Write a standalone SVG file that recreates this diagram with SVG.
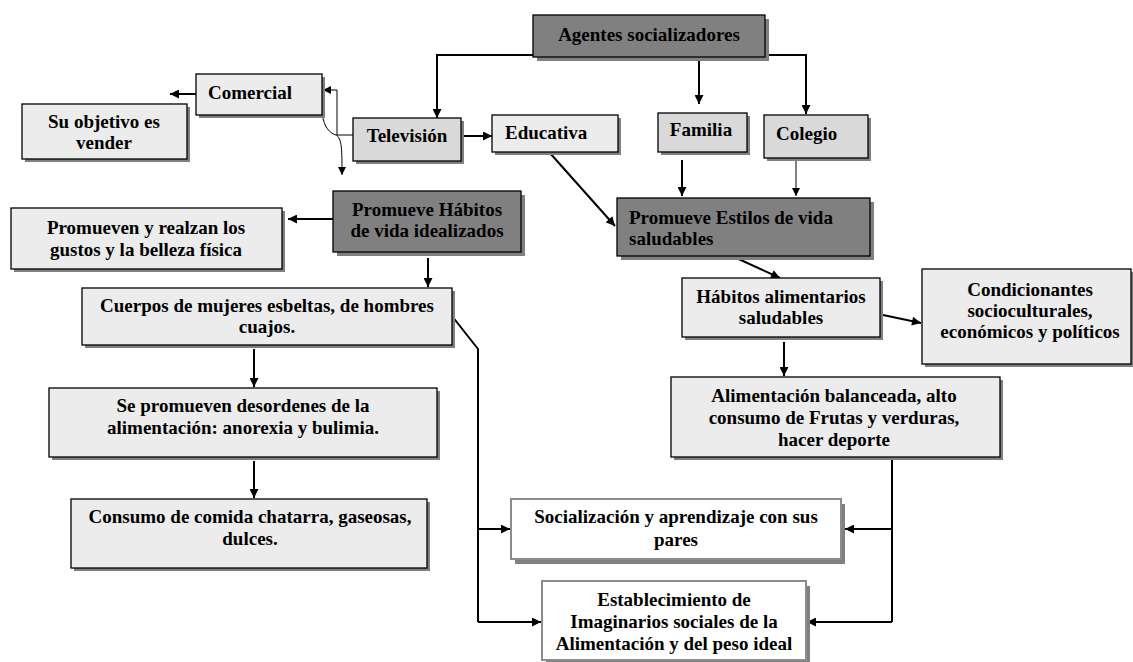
<svg xmlns="http://www.w3.org/2000/svg" width="1133" height="662" viewBox="0 0 1133 662">
<defs>
<style>
.t{font-family:"Liberation Serif","Times New Roman",serif;font-weight:bold;font-size:19px;fill:#000}
.c{text-anchor:middle}
.sh{fill:#808080}
.dk{fill:#808080;stroke:#000;stroke-width:1.3}
.md{fill:#d9d9d9;stroke:#000;stroke-width:1.3}
.lt{fill:#ececec;stroke:#000;stroke-width:1.3}
.wh{fill:#fff;stroke:#8c8c8c;stroke-width:2}
.k{fill:none;stroke:#000;stroke-width:2}
.n{fill:none;stroke:#000;stroke-width:1}
</style>
<marker id="a" viewBox="0 0 10 10" refX="10" refY="5" markerWidth="10" markerHeight="9" markerUnits="userSpaceOnUse" orient="auto"><path d="M0,0 L10,5 L0,10 z"/></marker>
<marker id="as" viewBox="0 0 10 10" refX="10" refY="5" markerWidth="8" markerHeight="8" markerUnits="userSpaceOnUse" orient="auto"><path d="M0,0 L10,5 L0,10 z"/></marker>
</defs>
<rect width="1133" height="662" fill="#fff"/>

<g id="connectors">
<path class="k" d="M533,55 H437 V118" marker-end="url(#a)"/>
<path class="k" d="M699,57 V104" marker-end="url(#a)"/>
<path class="k" d="M765,55 H806 V114" marker-end="url(#a)"/>
<path class="k" d="M461,136 H492" marker-end="url(#a)"/>
<path class="n" d="M353,135 H337 V90 H323" marker-end="url(#as)"/>
<polygon points="313,90 321,86 321,94" fill="#000"/>
<path class="k" d="M196,94 H170" marker-end="url(#a)"/>
<path class="n" d="M322,113 C324,128 330,133 336,135 C342,138 342,150 342,175" marker-end="url(#as)"/>
<path class="k" d="M333,219 H288" marker-end="url(#a)"/>
<path class="k" d="M428,258 V287" marker-end="url(#a)"/>
<path class="k" d="M549,152 L615,226" marker-end="url(#a)"/>
<path class="k" d="M682,160 V196" marker-end="url(#a)"/>
<path class="n" d="M796,158 V196" marker-end="url(#as)"/>
<path class="k" d="M732,256 L780,278" marker-end="url(#a)"/>
<path class="k" d="M883,315 L921,323" marker-end="url(#a)"/>
<path class="k" d="M784,342 V376" marker-end="url(#a)"/>
<path class="k" d="M254,349 V387" marker-end="url(#a)"/>
<path class="k" d="M254,461 V498" marker-end="url(#a)"/>
<path class="k" d="M452,316 L478,349 V622"/>
<path class="k" d="M478,529 H510" marker-end="url(#a)"/>
<path class="k" d="M478,622 H541" marker-end="url(#a)"/>
<path class="k" d="M892,457 V622"/>
<path class="k" d="M892,529 H845" marker-end="url(#a)"/>
<path class="k" d="M892,622 H807" marker-end="url(#a)"/>
</g>

<g id="agentes"><rect class="sh" x="537" y="19" width="232" height="42"/><rect class="dk" x="533" y="15" width="232" height="42"/><text class="t c" x="649" y="41">Agentes socializadores</text></g>
<g id="comercial"><rect class="sh" x="199" y="77" width="126" height="41"/><rect class="lt" x="196" y="74" width="126" height="41"/><text class="t" x="208" y="99">Comercial</text></g>
<g id="objetivo"><rect class="sh" x="25" y="107" width="165" height="55"/><rect class="lt" x="22" y="104" width="165" height="55"/><text class="t c" x="104" y="128">Su objetivo es</text><text class="t c" x="104" y="149">vender</text></g>
<g id="television"><rect class="sh" x="356" y="121" width="108" height="43"/><rect class="md" x="353" y="118" width="108" height="43"/><text class="t c" x="407" y="142">Televisión</text></g>
<g id="educativa"><rect class="sh" x="495" y="118" width="126" height="37"/><rect class="lt" x="492" y="115" width="126" height="37"/><text class="t" x="505" y="139">Educativa</text></g>
<g id="familia"><rect class="sh" x="661" y="116" width="89" height="39"/><rect class="md" x="658" y="113" width="89" height="39"/><text class="t c" x="701" y="136">Familia</text></g>
<g id="colegio"><rect class="sh" x="767" y="118" width="104" height="43"/><rect class="md" x="764" y="115" width="104" height="43"/><text class="t" x="776" y="140">Colegio</text></g>
<g id="habitos-idealizados"><rect class="sh" x="337" y="195" width="188" height="61"/><rect class="dk" x="333" y="191" width="188" height="61"/><text class="t c" x="427" y="216">Promueve Hábitos</text><text class="t c" x="427" y="237">de vida idealizados</text></g>
<g id="promueven"><rect class="sh" x="14" y="211" width="271" height="61"/><rect class="lt" x="11" y="208" width="271" height="61"/><text class="t c" x="146" y="234">Promueven y realzan los</text><text class="t c" x="146" y="256">gustos y la belleza física</text></g>
<g id="estilos"><rect class="sh" x="621" y="202" width="253" height="58"/><rect class="dk" x="617" y="198" width="253" height="58"/><text class="t" x="629" y="224">Promueve Estilos de vida</text><text class="t" x="629" y="245">saludables</text></g>
<g id="habitos"><rect class="sh" x="685" y="281" width="198" height="59"/><rect class="lt" x="682" y="278" width="198" height="59"/><text class="t c" x="781" y="303">Hábitos alimentarios</text><text class="t c" x="781" y="324">saludables</text></g>
<g id="condicionantes"><rect class="sh" x="925" y="272" width="210" height="95"/><rect class="lt" x="922" y="269" width="209" height="95"/><text class="t c" x="1030" y="296">Condicionantes</text><text class="t c" x="1030" y="317">socioculturales,</text><text class="t c" x="1030" y="338">económicos y políticos</text></g>
<g id="cuerpos"><rect class="sh" x="85" y="291" width="370" height="57"/><rect class="lt" x="82" y="288" width="370" height="57"/><text class="t c" x="267" y="312">Cuerpos de mujeres esbeltas, de hombres</text><text class="t c" x="267" y="333">cuajos.</text></g>
<g id="alimentacion"><rect class="sh" x="674" y="380" width="329" height="80"/><rect class="lt" x="671" y="377" width="329" height="80"/><text class="t c" x="834" y="402">Alimentación balanceada, alto</text><text class="t c" x="834" y="424">consumo de Frutas y verduras,</text><text class="t c" x="834" y="446">hacer deporte</text></g>
<g id="desordenes"><rect class="sh" x="52" y="391" width="388" height="69"/><rect class="lt" x="49" y="388" width="388" height="69"/><text class="t c" x="243" y="412">Se promueven desordenes de la</text><text class="t c" x="243" y="434">alimentación: anorexia y bulimia.</text></g>
<g id="consumo"><rect class="sh" x="74" y="502" width="356" height="69"/><rect class="lt" x="71" y="499" width="356" height="69"/><text class="t c" x="250" y="523">Consumo de comida chatarra, gaseosas,</text><text class="t c" x="250" y="545">dulces.</text></g>
<g id="socializacion"><rect class="sh" x="515" y="504" width="330" height="60"/><rect class="wh" x="511" y="499" width="330" height="60"/><text class="t c" x="676" y="523">Socialización y aprendizaje con sus</text><text class="t c" x="676" y="546">pares</text></g>
<g id="establecimiento"><rect class="sh" x="546" y="586" width="264" height="79"/><rect class="wh" x="542" y="581" width="264" height="79"/><text class="t c" x="674" y="606">Establecimiento de</text><text class="t c" x="674" y="628">Imaginarios sociales de la</text><text class="t c" x="674" y="650">Alimentación y del peso ideal</text></g>
</svg>
